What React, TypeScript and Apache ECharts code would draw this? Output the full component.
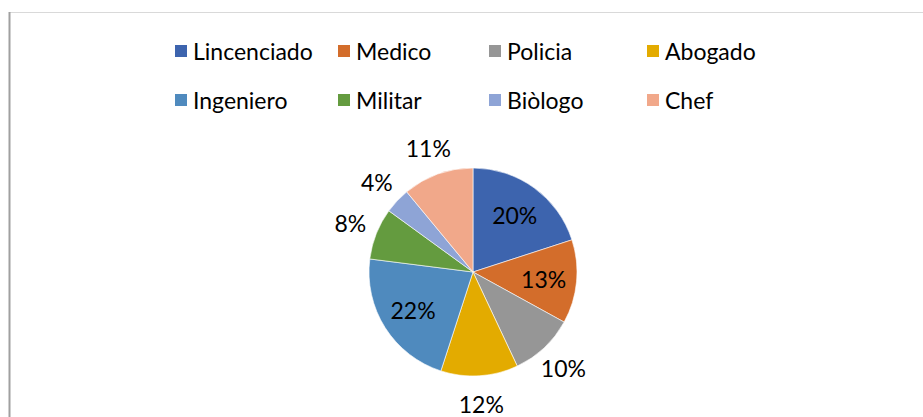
import React, { useEffect, useRef } from "react";
import * as echarts from "echarts";

const categories = ["Lincenciado", "Medico", "Policia", "Abogado", "Ingeniero", "Militar", "Biòlogo", "Chef"];
const values = [20, 13, 10, 12, 22, 8, 4, 11];
const colors = ["#3D64AE", "#D36D2B", "#969696", "#E3AB00", "#4F8ABE", "#649B3F", "#8EA4D6", "#F1A88A"];
const insideLabelNames = ["Lincenciado", "Medico", "Ingeniero"];
const legendColumns = [
  ["Lincenciado", "Ingeniero"],
  ["Medico", "Militar"],
  ["Policia", "Biòlogo"],
  ["Abogado", "Chef"],
];
const legendLefts = [168, 331, 482, 640];

const FONT = "Lato";

export default function App() {
  const ref = useRef<HTMLDivElement>(null);
  useEffect(() => {
    if (!ref.current) return;
    const chart = echarts.init(ref.current, undefined, { renderer: "svg" });
    const center = [473, 272];
    const R = 104;
    const pieData = categories.map((c, i) => ({ name: c, value: values[i], itemStyle: { color: colors[i] } }));
    const labelSeries = (inside: boolean, radius: number[]) => ({
      type: "pie",
      silent: true,
      center,
      radius,
      startAngle: 90,
      clockwise: true,
      legendHoverLink: false,
      itemStyle: { color: "rgba(0,0,0,0)", borderWidth: 0 },
      labelLine: { show: false },
      data: categories.map((c, i) => {
        const show = insideLabelNames.includes(c) === inside;
        return {
          name: c,
          value: values[i],
          itemStyle: { color: "rgba(0,0,0,0)" },
          label: { show },
        };
      }),
      label: {
        position: "inside",
        fontFamily: FONT,
        fontSize: 23,
        color: "#000",
        formatter: (p: any) => Math.round(p.percent) + "%",
      },
      z: 5,
    });
    chart.setOption({
      animation: false,
      backgroundColor: "#fff",
      legend: legendColumns.map((col, k) => ({
        data: col,
        orient: "vertical",
        left: legendLefts[k],
        top: 34,
        itemWidth: 14,
        itemHeight: 14,
        itemGap: 25,
        icon: "rect",
        selectedMode: false,
        textStyle: { fontFamily: FONT, fontSize: 23, color: "#000", lineHeight: 24, padding: [0, 0, 0, 0] },
      })),
      graphic: [
        { type: "line", shape: { x1: 9, y1: 12.5, x2: 923, y2: 12.5 }, style: { stroke: "#d9d9d9", lineWidth: 1 } },
        { type: "line", shape: { x1: 9.5, y1: 12, x2: 9.5, y2: 417 }, style: { stroke: "#a0a0a0", lineWidth: 2 } },
      ],
      series: [
        {
          type: "pie",
          center,
          radius: R,
          startAngle: 90,
          clockwise: true,
          label: { show: false },
          labelLine: { show: false },
          itemStyle: { borderColor: "#ffffff", borderWidth: 0.6 },
          data: pieData,
        },
        labelSeries(true, [32, R]),
        labelSeries(false, [R, 154]),
      ],
    });
    return () => chart.dispose();
  }, []);
  return <div ref={ref} style={{ position: "fixed", left: 0, top: 0, width: 923, height: 417 }} />;
}
